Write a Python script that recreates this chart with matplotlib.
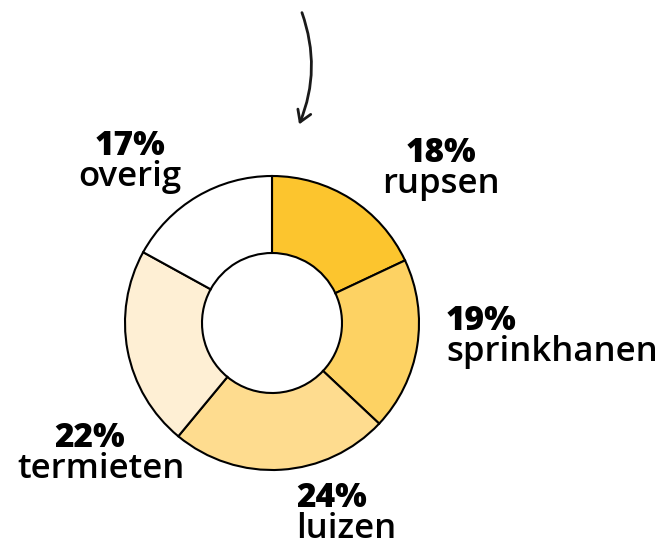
from matplotlib import pyplot as plt
from matplotlib.patches import FancyArrowPatch

categories = ['rupsen', 'sprinkhanen', 'luizen', 'termieten', 'overig']
shares = [18, 19, 24, 22, 17]
colors = ['#fcc52e', '#fdd263', '#fedc8f', '#feefd4', '#ffffff']

# label anchor: x of percentage, x of name, baseline of percentage (px from top), alignment
label_pos = {
    'rupsen': (441, 441, 162, 'center'),
    'sprinkhanen': (446, 446, 330, 'left'),
    'luizen': (296, 296, 507, 'left'),
    'termieten': (90, 101, 447, 'center'),
    'overig': (130, 130, 155, 'center'),
}


def main():
    plt.rcParams['font.family'] = ['Open Sans', 'DejaVu Sans']
    W, H = 669, 542
    fig = plt.figure(figsize=(W / 100, H / 100), dpi=100)
    ax = fig.add_axes([0, 0, 1, 1])

    cx, cy, r = 272, H - 323, 147
    ax.pie(shares, colors=colors, startangle=90, counterclock=False,
           center=(cx, cy), radius=r, frame=True,
           wedgeprops=dict(width=r - 70, edgecolor='black', linewidth=1.5))
    ax.set_xlim(0, W)
    ax.set_ylim(0, H)
    ax.set_aspect('equal')
    ax.axis('off')

    for cat, val in zip(categories, shares):
        xp, xn, y, ha = label_pos[cat]
        ax.text(xp, H - y, f'{val}%', ha=ha, va='baseline', fontsize=24,
                fontweight='heavy', color='black')
        ax.text(xn, H - y - 31, cat, ha=ha, va='baseline', fontsize=25,
                fontweight='semibold', color='black')

    arrow = FancyArrowPatch((301, H - 10), (298, H - 127),
                            connectionstyle='arc3,rad=-0.2',
                            arrowstyle='->,head_length=8,head_width=5',
                            color='#1a1a1a', linewidth=2)
    ax.add_patch(arrow)

    fig.savefig('out.png', dpi=100)


if __name__ == '__main__':
    main()
